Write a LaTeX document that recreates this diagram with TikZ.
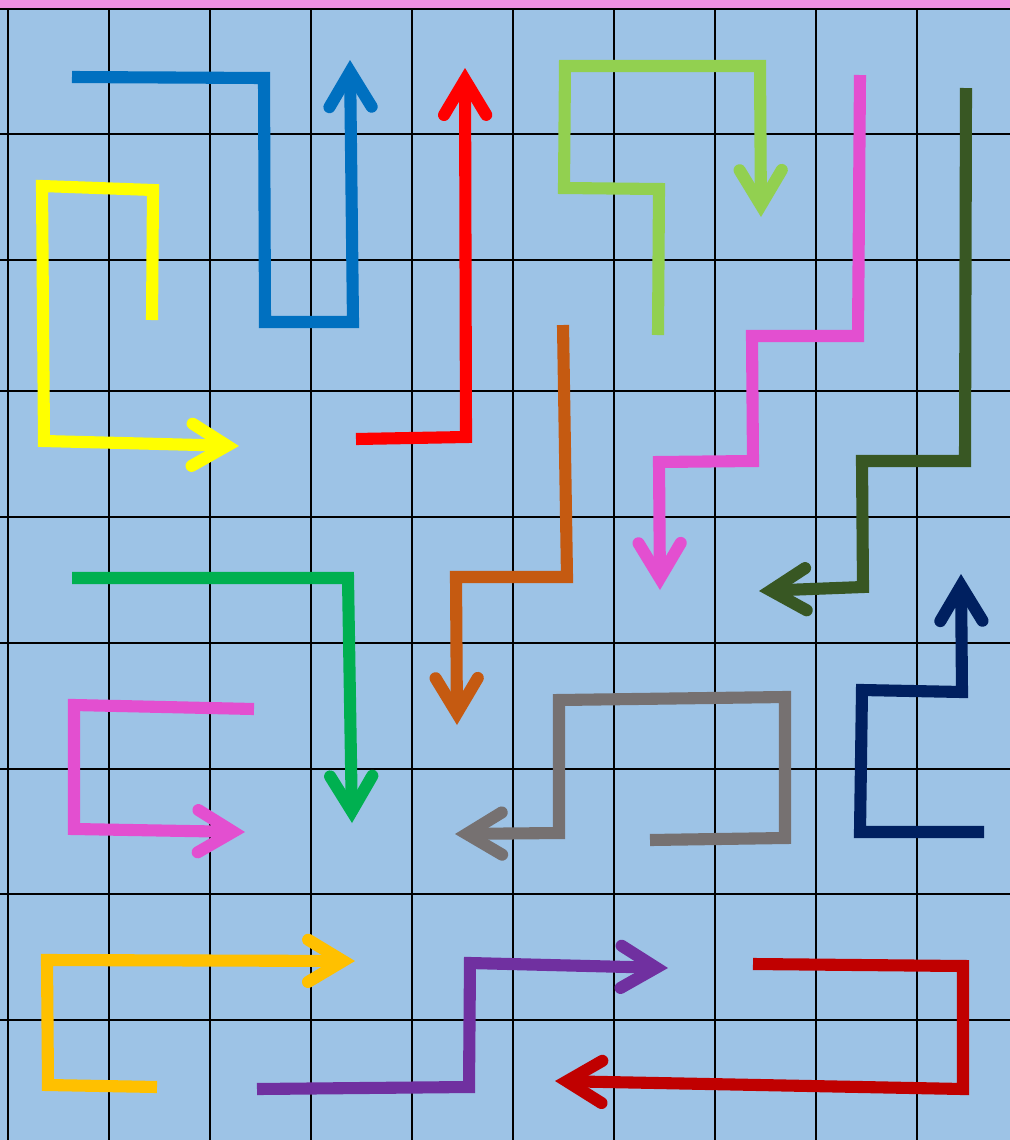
\documentclass[tikz,border=0pt]{standalone}
\usepackage{xcolor}
\usepackage{tikz}
\usetikzlibrary{arrows.meta}
\definecolor{GridBlue}{HTML}{9DC3E6}
\definecolor{TopPink}{HTML}{EF91E2}
\definecolor{TrailBlue}{HTML}{0070C0}
\definecolor{TrailYellow}{HTML}{FFFF00}
\definecolor{TrailRed}{HTML}{FF0000}
\definecolor{TrailLime}{HTML}{92D050}
\definecolor{TrailPink}{HTML}{E34FD0}
\definecolor{TrailOlive}{HTML}{385723}
\definecolor{TrailBrown}{HTML}{C55A11}
\definecolor{TrailGreen}{HTML}{00B050}
\definecolor{TrailGray}{HTML}{767171}
\definecolor{TrailNavy}{HTML}{002060}
\definecolor{TrailGold}{HTML}{FFC000}
\definecolor{TrailPurple}{HTML}{7030A0}
\definecolor{TrailCrimson}{HTML}{C00000}

\begin{document}
\begin{tikzpicture}[x=0.025cm,y=-0.025cm,
  gridline/.style={black,line width=2.1pt},
  trail/.style={line width=8.6pt,line join=miter},
  trailarr/.style={trail,-{Straight Barb[length=25pt,width=30pt,line width=8.6pt,
                                         line cap=round,line join=miter]}}
]
  \useasboundingbox (0,0) rectangle (1010,1140);
  \fill[GridBlue] (0,0) rectangle (1010,1140);
  \fill[TopPink] (0,0) rectangle (1010,8);
  \foreach \gx in {8,109,210,311,412,513,614,715,816,917}
    \draw[gridline] (\gx,9) -- (\gx,1140);
  \foreach \gy in {9,134,260,391,517,643,769,894,1020}
    \draw[gridline] (0,\gy) -- (1010,\gy);

  % upper half
  \draw[trailarr,TrailBlue] (72,77) -- (264,78) -- (265,322) -- (353,322) -- (350,60);
  \draw[trailarr,TrailYellow] (152,320) -- (153,190) -- (42,186) -- (44,441) -- (239,446);
  \draw[trailarr,TrailRed] (356,439) -- (466,437) -- (465,68);
  \draw[trailarr,TrailLime] (658,335) -- (659,189) -- (564,188) -- (565,66)
    -- (760,66) -- (761,217);
  \draw[trailarr,TrailPink] (860,75) -- (858,336) -- (752,336) -- (753,461)
    -- (659,462) -- (660,590);
  \draw[trailarr,TrailOlive] (966,88) -- (965,461) -- (862,461) -- (863,587) -- (759,591);
  \draw[trailarr,TrailBrown] (563,325) -- (567,577) -- (456,577) -- (457,725);

  % lower half
  \draw[trailarr,TrailGreen] (72,578) -- (348,578) -- (352,823);
  \draw[trailarr,TrailPink] (254,709) -- (74,705) -- (74,829) -- (245,832);
  \draw[trailarr,TrailGray] (650,840) -- (785,838) -- (785,697) -- (559,700)
    -- (559,833) -- (455,834);
  \draw[trailarr,TrailNavy] (984,832) -- (860,832) -- (862,690) -- (962,692) -- (961,574);
  \draw[trailarr,TrailGold] (157,1087) -- (48,1085) -- (47,960) -- (355,961);
  \draw[trailarr,TrailPurple] (257,1089) -- (469,1087) -- (470,963) -- (668,968);
  \draw[trailarr,TrailCrimson] (753,964) -- (963,966) -- (963,1089) -- (555,1081);
\end{tikzpicture}
\end{document}
